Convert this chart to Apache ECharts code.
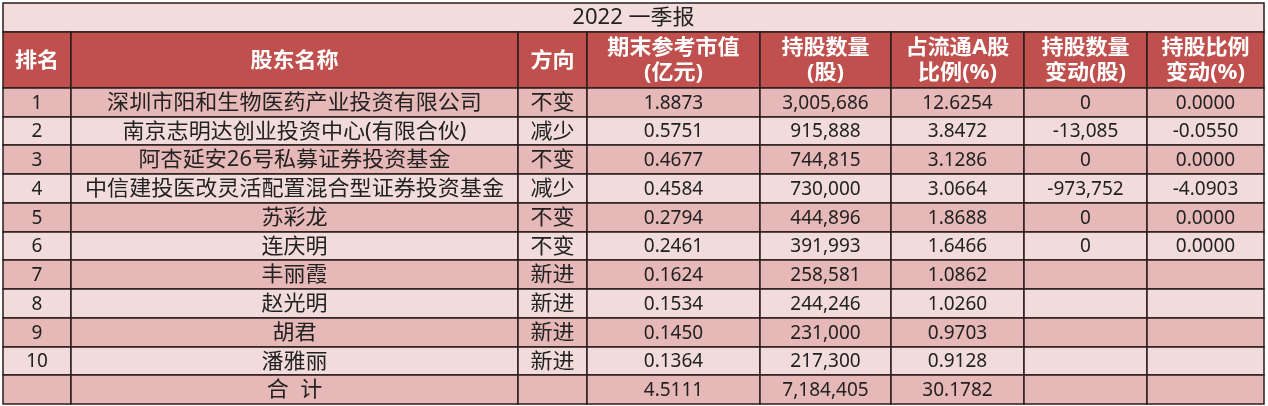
<!DOCTYPE html>
<html>
<head>
<meta charset="utf-8">
<script src="https://cdn.jsdelivr.net/npm/echarts@6/dist/echarts.min.js"></script>
<style>
  html, body { margin: 0; padding: 0; background: #fff; }
  #main { width: 1268px; height: 406px; }
</style>
</head>
<body>
<div id="main"></div>
<script>
// 表格数据
const title = '2022 一季报';
const headers = ['排名', '股东名称', '方向', '期末参考市值\n(亿元)', '持股数量\n(股)', '占流通A股\n比例(%)', '持股数量\n变动(股)', '持股比例\n变动(%)'];
const ranks = ['1', '2', '3', '4', '5', '6', '7', '8', '9', '10', ''];
const holders = ['深圳市阳和生物医药产业投资有限公司', '南京志明达创业投资中心(有限合伙)', '阿杏延安26号私募证券投资基金',
    '中信建投医改灵活配置混合型证券投资基金', '苏彩龙', '连庆明', '丰丽霞', '赵光明', '胡君', '潘雅丽', '合  计'];
const directions = ['不变', '减少', '不变', '减少', '不变', '不变', '新进', '新进', '新进', '新进', ''];
const marketValues = [1.8873, 0.5751, 0.4677, 0.4584, 0.2794, 0.2461, 0.1624, 0.1534, 0.1450, 0.1364, 4.5111];
const shareCounts = [3005686, 915888, 744815, 730000, 444896, 391993, 258581, 244246, 231000, 217300, 7184405];
const floatRatios = [12.6254, 3.8472, 3.1286, 3.0664, 1.8688, 1.6466, 1.0862, 1.0260, 0.9703, 0.9128, 30.1782];
const shareChanges = [0, -13085, 0, -973752, 0, 0, null, null, null, null, null];
const ratioChanges = [0, -0.0550, 0, -4.0903, 0, 0, null, null, null, null, null];

// 版式
const colEdges = [0, 68, 515, 584, 757, 888, 1021, 1144, 1261];
const titleH = 29, headerH = 56, rowH = 28.73;

function fmt4(v) { return v == null ? '' : v.toFixed(4); }
function fmtInt(v) { return v == null ? '' : v.toLocaleString('en-US'); }

let cells = [];
cells.push({ value: [0, 1261, 0, titleH], text: title, kind: 'title' });
headers.forEach(function (h, c) {
    cells.push({ value: [colEdges[c], colEdges[c + 1], titleH, titleH + headerH], text: h, kind: 'header' });
});
for (let r = 0; r < ranks.length; r++) {
    let y0 = titleH + headerH + r * rowH;
    let row = [ranks[r], holders[r], directions[r], fmt4(marketValues[r]), fmtInt(shareCounts[r]),
        fmt4(floatRatios[r]), fmtInt(shareChanges[r]), fmt4(ratioChanges[r])];
    row.forEach(function (t, c) {
        cells.push({ value: [colEdges[c], colEdges[c + 1], y0, y0 + rowH], text: t,
            kind: r % 2 === 0 ? 'dark' : 'light', cjk: c === 1 || c === 2 });
    });
}

const fills = { title: '#f2dddc', header: '#c0504d', dark: '#e6b8b7', light: '#f2dcdb' };

let myChart = echarts.init(document.getElementById('main'));
myChart.setOption({
    animation: false,
    grid: { left: 3, top: 3, width: 1261, height: 401 },
    xAxis: { type: 'value', min: 0, max: 1261, show: false },
    yAxis: { type: 'value', min: 0, max: 401, inverse: true, show: false },
    series: [{
        type: 'custom',
        data: cells.map(function (c) { return c.value; }),
        renderItem: function (params, api) {
            let cell = cells[params.dataIndex];
            let p0 = api.coord([api.value(0), api.value(2)]);
            let p1 = api.coord([api.value(1), api.value(3)]);
            let x = Math.round(p0[0]), y = Math.round(p0[1]);
            let w = Math.round(p1[0]) - x;
            let h = Math.round(p1[1]) - y;
            let isHeader = cell.kind === 'header';
            let size = isHeader ? 21 : (cell.kind === 'title' || cell.cjk ? 21 : 19);
            return {
                type: 'group',
                children: [{
                    type: 'rect',
                    shape: { x: x, y: y, width: w, height: h },
                    style: { fill: fills[cell.kind], stroke: '#2a1c1c', lineWidth: 1.5 }
                }, {
                    type: 'text',
                    x: x + w / 2,
                    y: y + h / 2 + 1,
                    scaleX: (isHeader || cell.cjk || cell.kind === 'title') ? 1.05 : 1,
                    style: {
                        text: cell.text,
                        align: 'center',
                        verticalAlign: 'middle',
                        fontSize: size,
                        lineHeight: 25,
                        fontWeight: isHeader ? 'bold' : 'normal',
                        fontFamily: "'Noto Sans', 'Noto Sans CJK SC'",
                        fill: isHeader ? '#ffffff' : '#222222'
                    }
                }]
            };
        }
    }]
});
</script>
</body>
</html>
